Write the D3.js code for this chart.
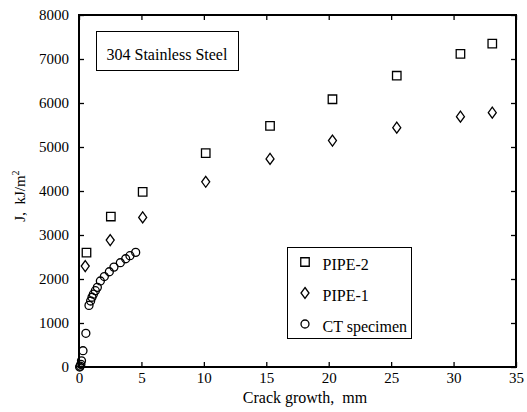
<!DOCTYPE html>
<html>
<head>
<meta charset="utf-8">
<script src="https://cdn.jsdelivr.net/npm/d3@7"></script>
<style>
  body { margin: 0; background: #fff; }
  svg text { font-family: "Liberation Serif", "Times New Roman", serif; fill: #000; }
</style>
</head>
<body>
<svg id="container" width="527" height="412"></svg>
<script>
// crack growth (mm) and J (kJ/m^2)
var pipe2Growth = [0.6, 2.55, 5.1, 10.15, 15.3, 20.3, 25.45, 30.55, 33.1];
var pipe2J = [2600, 3420, 3980, 4860, 5480, 6085, 6620, 7115, 7350];

var pipe1Growth = [0.5, 2.5, 5.1, 10.15, 15.3, 20.3, 25.45, 30.55, 33.1];
var pipe1J = [2295, 2885, 3400, 4210, 4730, 5145, 5440, 5690, 5780];

var ctGrowth = [0.05, 0.1, 0.15, 0.2, 0.32, 0.55, 0.8, 0.93, 1.04, 1.15, 1.31, 1.47, 1.71, 2.03, 2.43, 2.8, 3.31, 3.74, 4.08, 4.54];
var ctJ = [0, 20, 60, 140, 370, 765, 1400, 1500, 1585, 1655, 1735, 1810, 1955, 2055, 2165, 2270, 2370, 2460, 2530, 2605];

var xTicks = [0, 5, 10, 15, 20, 25, 30, 35];
var yTicks = [0, 1000, 2000, 3000, 4000, 5000, 6000, 7000, 8000];
var legendLabels = ["PIPE-2", "PIPE-1", "CT specimen"];

function drawChart()
{
    var svg = d3.select("#container");
    var plotLeft = 79, plotRight = 516, plotTop = 15, plotBottom = 367;

    var x = d3.scaleLinear().domain([0, 35]).range([plotLeft, plotRight]);
    var y = d3.scaleLinear().domain([0, 8000]).range([plotBottom, plotTop]);

    // axes with inward ticks on all four sides
    svg.append("g").attr("transform", "translate(0," + plotBottom + ")")
        .call(d3.axisBottom(x).tickValues(xTicks).tickSizeInner(-5).tickSizeOuter(0).tickPadding(5));
    svg.append("g").attr("transform", "translate(0," + plotTop + ")")
        .call(d3.axisTop(x).tickValues(xTicks).tickSizeInner(-5).tickSizeOuter(0).tickFormat(""));
    svg.append("g").attr("transform", "translate(" + plotLeft + ",0)")
        .call(d3.axisLeft(y).tickValues(yTicks).tickFormat(d3.format("d"))
            .tickSizeInner(-5).tickSizeOuter(0).tickPadding(10));
    svg.append("g").attr("transform", "translate(" + plotRight + ",0)")
        .call(d3.axisRight(y).tickValues(yTicks).tickSizeInner(-5).tickSizeOuter(0).tickFormat(""));

    svg.selectAll(".domain").remove();
    svg.selectAll(".tick line").attr("stroke", "#000").attr("stroke-width", 1.3);
    svg.selectAll(".tick text").attr("font-size", 15).attr("font-family", "Liberation Serif");

    svg.append("rect")
        .attr("x", plotLeft).attr("y", plotTop)
        .attr("width", plotRight - plotLeft).attr("height", plotBottom - plotTop)
        .attr("fill", "none").attr("stroke", "#000").attr("stroke-width", 2);

    // axis titles
    svg.append("text")
        .attr("x", 305).attr("y", 403)
        .attr("text-anchor", "middle").attr("font-size", 16)
        .attr("xml:space", "preserve")
        .text("Crack growth,  mm");

    var yl = svg.append("text")
        .attr("transform", "translate(25,196) rotate(-90)")
        .attr("text-anchor", "middle").attr("font-size", 15)
        .attr("opacity", 0.99)
        .attr("xml:space", "preserve");
    yl.append("tspan").text("J,  kJ/m");
    yl.append("tspan").attr("dy", -6).attr("font-size", 10).text("2");

    // markers
    var symSquare = d3.symbol().type(d3.symbolSquare).size(72);
    var symCircle = d3.symbol().type(d3.symbolCircle).size(50);
    function diamondPath(w, h)
    {
        return "M0," + (-h / 2) + "L" + (w / 2) + ",0L0," + (h / 2) + "L" + (-w / 2) + ",0Z";
    }

    var marks = svg.append("g").attr("fill", "none").attr("stroke", "#000").attr("stroke-width", 1.3);

    marks.selectAll("path.sq").data(d3.range(pipe2Growth.length)).join("path")
        .attr("class", "sq")
        .attr("transform", i => "translate(" + x(pipe2Growth[i]) + "," + y(pipe2J[i]) + ")")
        .attr("d", symSquare());

    marks.selectAll("path.dm").data(d3.range(pipe1Growth.length)).join("path")
        .attr("class", "dm")
        .attr("transform", i => "translate(" + x(pipe1Growth[i]) + "," + y(pipe1J[i]) + ")")
        .attr("d", diamondPath(8, 11));

    marks.selectAll("path.ci").data(d3.range(ctGrowth.length)).join("path")
        .attr("class", "ci")
        .attr("transform", i => "translate(" + x(ctGrowth[i]) + "," + y(ctJ[i]) + ")")
        .attr("d", symCircle());

    // material label box
    svg.append("rect")
        .attr("x", 96.5).attr("y", 31.5).attr("width", 142).attr("height", 39)
        .attr("fill", "#fff").attr("stroke", "#000").attr("stroke-width", 1);
    svg.append("text")
        .attr("x", 106.5).attr("y", 60).attr("font-size", 16)
        .text("304 Stainless Steel");

    // legend
    var legend = svg.append("g");
    legend.append("rect")
        .attr("x", 287.5).attr("y", 247.5).attr("width", 124).attr("height", 91)
        .attr("fill", "#fff").attr("stroke", "#000").attr("stroke-width", 1);

    var legendShapes = [symSquare(), diamondPath(8, 11), symCircle()];
    var legendRows = legend.selectAll("g.row").data(legendLabels).join("g")
        .attr("class", "row")
        .attr("transform", (d, i) => "translate(305," + (262 + i * 31) + ")");
    legendRows.append("path")
        .attr("d", (d, i) => legendShapes[i])
        .attr("fill", "none").attr("stroke", "#000").attr("stroke-width", 1.3);
    legendRows.append("text")
        .attr("x", 17.5).attr("y", 8).attr("font-size", 16)
        .text(d => d);
}

drawChart();
</script>
</body>
</html>
